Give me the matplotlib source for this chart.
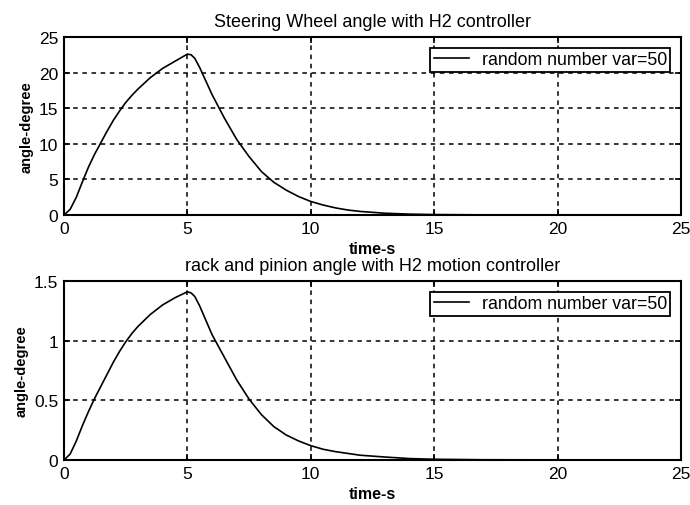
import matplotlib
matplotlib.use("Agg")
import matplotlib.pyplot as plt

t = [0, 0.25, 0.5, 0.75, 1.0, 1.25, 1.5, 1.75, 2.0, 2.25, 2.5, 2.75, 3.0, 3.5, 4.0, 4.5, 4.75, 5.0,
     5.15, 5.3, 5.5, 5.75, 6.0, 6.5, 7.0, 7.5, 8.0, 8.5, 9.0, 9.5, 10, 10.5, 11, 11.5,
     12, 13, 14, 15, 17, 20, 25]
steer = [0, 0.8, 2.5, 4.7, 6.8, 8.6, 10.2, 11.8, 13.3, 14.6, 15.8, 16.8, 17.7, 19.3, 20.6, 21.6, 22.1, 22.6,
         22.5, 22.0, 20.7, 18.8, 16.9, 13.6, 10.6, 8.2, 6.1, 4.6, 3.5, 2.6, 1.9, 1.4, 1.0, 0.7,
         0.5, 0.25, 0.12, 0.06, 0.02, 0.005, 0]
rack = [0, 0.05, 0.16, 0.29, 0.41, 0.52, 0.62, 0.72, 0.82, 0.91, 0.99, 1.06, 1.12, 1.22, 1.30, 1.36, 1.385, 1.41,
        1.40, 1.37, 1.29, 1.17, 1.05, 0.86, 0.67, 0.51, 0.38, 0.28, 0.21, 0.16, 0.12, 0.09, 0.07, 0.055,
        0.04, 0.025, 0.012, 0.006, 0.002, 0.001, 0]

titles = ["Steering Wheel angle with H2 controller",
          "rack and pinion angle with H2 motion controller"]
xticks = [0, 5, 10, 15, 20, 25]
yticks_top = [0, 5, 10, 15, 20, 25]
yticks_bot = [0, 0.5, 1, 1.5]
ytick_labels_bot = ["0", "0.5", "1", "1.5"]
legend_label = "random number var=50"

plt.rcParams['font.family'] = ['Liberation Sans', 'DejaVu Sans']

fig = plt.figure(figsize=(6.9, 5.06), dpi=100)
W, H = 690, 506
ax1 = fig.add_axes([64 / W, 1 - 216 / H, (681 - 64) / W, (216 - 38) / H])
ax2 = fig.add_axes([64 / W, 1 - 461 / H, (681 - 64) / W, (461 - 282) / H])

for ax, y, title, yt, ytl, ylim in [
        (ax1, steer, titles[0], yticks_top, [str(v) for v in yticks_top], (0, 25)),
        (ax2, rack, titles[1], yticks_bot, ytick_labels_bot, (0, 1.5))]:
    ax.plot(t, y, color='black', lw=1.2, label=legend_label)
    ax.set_xlim(0, 25)
    ax.set_ylim(*ylim)
    ax.set_xticks(xticks)
    ax.set_xticklabels([str(v) for v in xticks], fontsize=12.5)
    ax.set_yticks(yt)
    ax.set_yticklabels(ytl, fontsize=12.5)
    ax.grid(True, color='black', linestyle=(0, (3, 3)), linewidth=1.1)
    ax.tick_params(direction='in', top=True, right=True, length=4, width=1.2, pad=4)
    for s in ax.spines.values():
        s.set_linewidth(1.5)
    ax.set_title(title, fontsize=13, pad=8)
    ax.set_xlabel("time-s", fontsize=11.5, fontweight='bold', labelpad=4)
    ax.set_ylabel("angle-degree", fontsize=10.5, fontweight='bold', labelpad=4)
    leg = ax.legend(loc='upper right', fontsize=12.8, frameon=True, fancybox=False,
                    edgecolor='black', framealpha=1, handlelength=2.0,
                    borderaxespad=0.6, borderpad=0.2, handletextpad=0.7)
    leg.get_frame().set_linewidth(1.3)

fig.savefig("out.png", dpi=100, facecolor='white')
